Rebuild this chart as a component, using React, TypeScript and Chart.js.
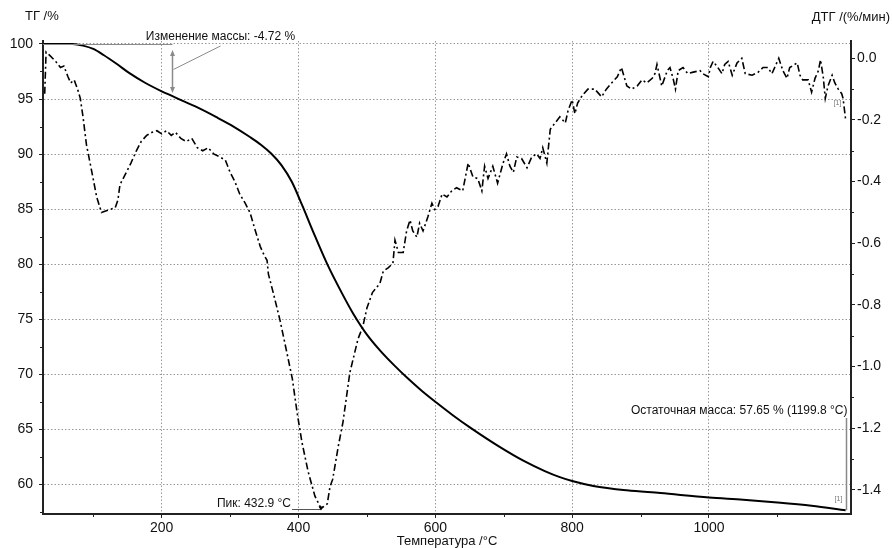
import React, { useEffect, useRef } from 'react';
import { Chart, registerables } from 'chart.js';

Chart.register(...registerables);

// ---------- data ----------
const tgTemp = [27, 50, 70, 85, 100, 115, 134, 154, 175, 200, 215, 230, 250, 280, 305, 329, 345, 360, 375, 390, 405, 421, 442, 464, 480, 500, 520, 540, 560, 580, 601, 625, 651, 694, 730, 760, 782, 800, 831, 880, 929, 1000, 1050, 1100, 1150, 1199.8];
const tgValue = [100, 100, 100, 99.85, 99.55, 99.0, 98.2, 97.3, 96.5, 95.7, 95.28, 94.85, 94.3, 93.35, 92.5, 91.55, 90.85, 90.05, 89.0, 87.5, 85.4, 83.0, 80.0, 77.3, 75.5, 73.6, 72.1, 70.8, 69.6, 68.5, 67.45, 66.3, 65.15, 63.4, 62.1, 61.2, 60.65, 60.3, 59.85, 59.45, 59.2, 58.8, 58.6, 58.35, 58.05, 57.65];

const dtgTemp = [29, 31, 36, 45, 52, 57, 63, 67, 72, 77, 81, 85, 90, 98, 105, 112, 118, 125, 132, 136, 139, 146, 155, 163, 170, 178, 186, 193, 200, 207, 214, 220, 228, 236, 244, 252, 260, 268, 276, 285, 293, 300, 307, 314, 322, 329, 337, 344, 350, 354, 356, 363, 373, 383, 391, 398, 405, 414, 424, 432.9, 442, 446, 450, 458, 465, 475, 487, 494, 500, 508, 519, 524, 531, 538, 541, 546, 553, 558, 563, 567, 573, 577, 582, 589, 595, 599, 604, 610, 617, 624, 631, 640, 648, 655, 662, 668, 672, 677, 684, 691, 699, 704, 709, 714, 719, 726, 734, 741, 748, 753, 757, 763, 768, 775, 782, 790, 794, 800, 804, 808, 815, 823, 833, 843, 850, 859, 866, 872, 880, 887, 895, 902, 909, 917, 921, 924, 929, 931, 939, 943, 948, 951, 955, 962, 969, 977, 987, 991, 999, 1002, 1006, 1013, 1019, 1023, 1028, 1034, 1041, 1048, 1053, 1063, 1072, 1079, 1086, 1092, 1099, 1102, 1108, 1114, 1118, 1129, 1133, 1137, 1145, 1150, 1155, 1160, 1163, 1167, 1170, 1174, 1180, 1184, 1189, 1194, 1196, 1199.8];
const dtgValue = [-0.115, 0.02, 0.01, -0.01, -0.03, -0.025, -0.06, -0.08, -0.07, -0.10, -0.13, -0.19, -0.28, -0.37, -0.45, -0.50, -0.495, -0.49, -0.485, -0.46, -0.41, -0.38, -0.34, -0.30, -0.27, -0.25, -0.24, -0.235, -0.245, -0.235, -0.25, -0.24, -0.26, -0.27, -0.26, -0.29, -0.30, -0.29, -0.31, -0.32, -0.33, -0.37, -0.40, -0.44, -0.47, -0.50, -0.56, -0.61, -0.64, -0.655, -0.70, -0.76, -0.85, -0.955, -1.04, -1.15, -1.245, -1.34, -1.42, -1.46, -1.445, -1.39, -1.365, -1.26, -1.18, -1.02, -0.91, -0.87, -0.81, -0.76, -0.73, -0.69, -0.68, -0.665, -0.59, -0.63, -0.63, -0.56, -0.525, -0.56, -0.58, -0.535, -0.56, -0.515, -0.47, -0.49, -0.48, -0.44, -0.45, -0.43, -0.42, -0.43, -0.34, -0.385, -0.39, -0.43, -0.35, -0.39, -0.35, -0.405, -0.34, -0.31, -0.35, -0.37, -0.32, -0.325, -0.355, -0.32, -0.31, -0.325, -0.29, -0.34, -0.23, -0.21, -0.19, -0.21, -0.17, -0.135, -0.18, -0.145, -0.12, -0.10, -0.10, -0.125, -0.10, -0.077, -0.06, -0.03, -0.09, -0.10, -0.09, -0.07, -0.08, -0.065, -0.05, -0.02, -0.07, -0.09, -0.04, -0.03, -0.07, -0.10, -0.04, -0.03, -0.05, -0.045, -0.04, -0.05, -0.06, -0.03, -0.01, -0.03, -0.05, -0.02, -0.01, -0.055, -0.015, 0.0, -0.05, -0.055, -0.045, -0.03, -0.03, -0.05, -0.015, 0.0, -0.04, -0.065, -0.03, -0.015, -0.055, -0.07, -0.07, -0.11, -0.065, -0.04, -0.005, -0.06, -0.13, -0.09, -0.055, -0.08, -0.10, -0.115, -0.13, -0.20];

const xTicks = [200, 400, 600, 800, 1000];
const xMinorTicks = [100, 300, 500, 700, 900, 1100];
const tgTicks = [60, 65, 70, 75, 80, 85, 90, 95, 100];
const tgMinorTicks = [57.5, 62.5, 67.5, 72.5, 77.5, 82.5, 87.5, 92.5, 97.5];
const dtgTicks = [0, -0.2, -0.4, -0.6, -0.8, -1.0, -1.2, -1.4];
const dtgMinorTicks = [-0.1, -0.3, -0.5, -0.7, -0.9, -1.1, -1.3];

const X_MIN = 26.5;
const X_MAX = 1207.6;
const TG_MIN = 57.3;
const TG_MAX = 100.27;
const DTG_MIN = -1.478;
const DTG_MAX = 0.056;

const massChangeTemp = 215;
const massChange = -4.72;
const peakTemp = 432.9;
const peakDtg = -1.46;
const residualMass = 57.65;
const residualTemp = 1199.8;

const FONT = '"Liberation Sans", Arial, sans-serif';

const annotPlugin = {
  id: 'annot',
  afterDatasetsDraw(chart: any) {
    const { ctx, chartArea } = chart;
    const x = chart.scales.x;
    const y = chart.scales.y;
    const y2 = chart.scales.y2;
    ctx.save();

    const line = (x1: number, y1: number, x2: number, y2p: number) => {
      ctx.beginPath();
      ctx.moveTo(x1, y1);
      ctx.lineTo(x2, y2p);
      ctx.stroke();
    };

    // minor ticks
    ctx.strokeStyle = '#222';
    ctx.lineWidth = 1;
    ctx.setLineDash([]);
    xMinorTicks.forEach((v) => {
      const px = Math.round(x.getPixelForValue(v)) + 0.5;
      line(px, chartArea.bottom, px, chartArea.bottom + 3);
    });
    tgMinorTicks.forEach((v) => {
      const py = Math.round(y.getPixelForValue(v)) + 0.5;
      line(chartArea.left - 3, py, chartArea.left, py);
    });
    dtgMinorTicks.forEach((v) => {
      const py = Math.round(y2.getPixelForValue(v)) + 0.5;
      line(chartArea.right, py, chartArea.right + 3, py);
    });

    // axis titles
    ctx.fillStyle = '#111';
    ctx.font = `13px ${FONT}`;
    ctx.textBaseline = 'middle';
    ctx.textAlign = 'left';
    ctx.fillText('ТГ /%', 25, 16);
    ctx.textAlign = 'right';
    ctx.fillText('ДТГ /(%/мин)', 890, 17);
    ctx.textAlign = 'center';
    ctx.fillText('Температура /°C', (chartArea.left + chartArea.right) / 2, 541);

    // mass change annotation
    const mx = Math.round(x.getPixelForValue(massChangeTemp)) + 0.5;
    const yTop = y.getPixelForValue(100);
    const yBot = y.getPixelForValue(100 + massChange);
    ctx.strokeStyle = '#8a8a8a';
    ctx.fillStyle = '#8a8a8a';
    ctx.lineWidth = 1;
    line(chartArea.left, Math.round(yTop) + 0.5, mx, Math.round(yTop) + 0.5);
    const aTop = yTop + 6;
    const aBot = yBot - 3;
    ctx.lineWidth = 1.5;
    line(mx, aTop + 4, mx, aBot - 4);
    ctx.beginPath();
    ctx.moveTo(mx, aTop);
    ctx.lineTo(mx - 2.5, aTop + 6);
    ctx.lineTo(mx + 2.5, aTop + 6);
    ctx.closePath();
    ctx.fill();
    ctx.beginPath();
    ctx.moveTo(mx, aBot);
    ctx.lineTo(mx - 2.5, aBot - 6);
    ctx.lineTo(mx + 2.5, aBot - 6);
    ctx.closePath();
    ctx.fill();
    ctx.lineWidth = 1;
    line(mx + 1, (aTop + aBot) / 2 - 2, mx + 48, yTop + 2);
    ctx.fillStyle = '#111';
    ctx.font = `12px ${FONT}`;
    ctx.textAlign = 'center';
    ctx.textBaseline = 'middle';
    ctx.fillText(`Изменение массы: ${massChange.toFixed(2)} %`, mx + 48, 37);

    // peak annotation
    const px = x.getPixelForValue(peakTemp);
    const py = y2.getPixelForValue(peakDtg);
    ctx.strokeStyle = '#555';
    ctx.lineWidth = 1;
    line(px - 29, Math.round(py) + 1.5, px, Math.round(py) + 1.5);
    ctx.fillStyle = '#000';
    ctx.beginPath();
    ctx.moveTo(px, py + 2);
    ctx.lineTo(px - 2.5, py - 2);
    ctx.lineTo(px + 2.5, py - 2);
    ctx.closePath();
    ctx.fill();
    ctx.fillStyle = '#111';
    ctx.textAlign = 'right';
    ctx.fillText(`Пик: ${peakTemp.toFixed(1)} °C`, px - 30, py - 5);

    // residual mass annotation
    const rx = Math.round(x.getPixelForValue(residualTemp)) + 0.5;
    const ry = y.getPixelForValue(residualMass);
    ctx.strokeStyle = '#8a8a8a';
    ctx.lineWidth = 1.5;
    line(rx, 418, rx, ry);
    ctx.fillStyle = '#111';
    ctx.textAlign = 'right';
    ctx.fillText(`Остаточная масса: ${residualMass.toFixed(2)} % (${residualTemp.toFixed(1)} °C)`, rx + 1, 411);

    // [1] markers
    ctx.fillStyle = '#777';
    ctx.font = `7px ${FONT}`;
    ctx.textAlign = 'center';
    ctx.fillText('[1]', rx - 8, ry - 11);
    ctx.fillText('[1]', rx - 9, y2.getPixelForValue(-0.145));

    ctx.restore();
  },
};

export default function App() {
  const canvasRef = useRef<HTMLCanvasElement | null>(null);

  useEffect(() => {
    const canvas = canvasRef.current;
    if (!canvas) return;
    const tgData = tgTemp.map((t, i) => ({ x: t, y: tgValue[i] }));
    const dtgData = dtgTemp.map((t, i) => ({ x: t, y: dtgValue[i] }));

    const tickFont = { family: FONT, size: 14 };

    const chart = new Chart(canvas, {
      type: 'line',
      data: {
        datasets: [
          {
            label: 'ТГ',
            data: tgData,
            yAxisID: 'y',
            borderColor: '#000',
            borderWidth: 2,
            pointRadius: 0,
            cubicInterpolationMode: 'monotone',
            fill: false,
          },
          {
            label: 'ДТГ',
            data: dtgData,
            yAxisID: 'y2',
            borderColor: '#000',
            borderWidth: 1.6,
            borderDash: [7, 3, 2, 3],
            pointRadius: 0,
            tension: 0,
            fill: false,
          },
        ],
      },
      options: {
        responsive: false,
        animation: false,
        events: [],
        layout: { padding: { top: 41, left: 0, right: 0, bottom: 0 } },
        plugins: {
          legend: { display: false },
          tooltip: { enabled: false },
          title: { display: false },
        },
        scales: {
          x: {
            type: 'linear',
            min: X_MIN,
            max: X_MAX,
            afterBuildTicks: (s: any) => {
              s.ticks = xTicks.map((v) => ({ value: v }));
            },
            afterFit: (s: any) => {
              s.height = 34;
            },
            ticks: {
              color: '#111',
              font: tickFont,
              padding: 2,
              maxRotation: 0,
              autoSkip: false,
              callback: (v: any) => String(v),
            },
            grid: {
              color: '#999',
              lineWidth: 1,
              drawTicks: true,
              tickLength: 4,
              tickColor: '#222',
              tickWidth: 1,
            },
            border: { display: true, color: '#222', width: 2, dash: [1.5, 2] },
          },
          y: {
            type: 'linear',
            position: 'left',
            min: TG_MIN,
            max: TG_MAX,
            afterBuildTicks: (s: any) => {
              s.ticks = tgTicks.map((v) => ({ value: v }));
            },
            afterFit: (s: any) => {
              s.width = 43;
            },
            ticks: {
              color: '#111',
              font: tickFont,
              padding: 6,
              autoSkip: false,
              callback: (v: any) => String(v),
            },
            grid: {
              color: '#999',
              lineWidth: 1,
              drawTicks: true,
              tickLength: 4,
              tickColor: '#222',
              tickWidth: 1,
            },
            border: { display: true, color: '#222', width: 2, dash: [1.5, 2] },
          },
          y2: {
            type: 'linear',
            position: 'right',
            min: DTG_MIN,
            max: DTG_MAX,
            afterBuildTicks: (s: any) => {
              s.ticks = dtgTicks.map((v) => ({ value: v }));
            },
            afterFit: (s: any) => {
              s.width = 41;
            },
            ticks: {
              color: '#111',
              font: tickFont,
              padding: 2,
              autoSkip: false,
              callback: (v: any) => Number(v).toFixed(1),
            },
            grid: {
              drawOnChartArea: false,
              drawTicks: true,
              tickLength: 4,
              tickColor: '#222',
              tickWidth: 1,
            },
            border: { display: true, color: '#222', width: 2 },
          },
        },
      },
      plugins: [annotPlugin],
    } as any);

    return () => {
      chart.destroy();
    };
  }, []);

  return (
    <div style={{ position: 'absolute', left: 0, top: 0, width: 892, height: 548, background: '#fff' }}>
      <canvas ref={canvasRef} width={892} height={548} style={{ display: 'block' }} />
    </div>
  );
}
